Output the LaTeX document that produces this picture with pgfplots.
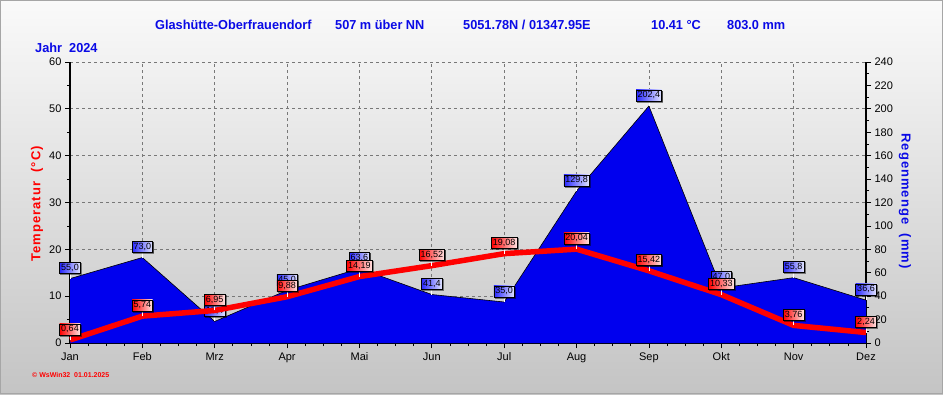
\documentclass[border=0pt]{standalone}
\usepackage{pgfplots}
\pgfplotsset{compat=1.18}
\usepackage{fontspec}
\setmainfont{Liberation Sans}
\newfontfamily\narrowfont[FakeStretch=0.98]{Liberation Sans}
\usetikzlibrary{shadows}
\definecolor{areablue}{RGB}{0,0,238}
\definecolor{txtblue}{RGB}{10,10,230}
\definecolor{gridgray}{RGB}{120,120,120}
\pgfdeclareplotmark{stick}{%
  \pgfpathmoveto{\pgfqpoint{0pt}{0pt}}%
  \pgfpathlineto{\pgfqpoint{0pt}{5pt}}%
  \pgfusepathqstroke}
\tikzset{
  labelbox/.style={draw=black, line width=0.5pt, inner xsep=1.5pt, inner ysep=1pt,
    minimum height=11pt, font=\fontsize{9}{10}\selectfont, text=black,
    anchor=south, yshift=5pt,
    drop shadow={shadow xshift=1pt, shadow yshift=-1pt, fill=black, opacity=0.45}},
}
\pgfplotsset{
  common/.style={at={(70pt,51pt)}, anchor=south west, scale only axis,
    width=796pt, height=281pt, xmin=0, xmax=11,
    /pgf/number format/assume math mode=true},
}
\begin{document}
\begin{tikzpicture}
\shade[top color={rgb,255:red,250;green,250;blue,250}, bottom color={rgb,255:red,196;green,196;blue,196}]
  (0pt,0pt) rectangle (943pt,394pt);
\draw[gray!70, line width=0.8pt] (0.4pt,0.4pt) rectangle (942.6pt,393.6pt);

% Axis 1: temperature scale, grid, left and bottom axis lines
\begin{axis}[common, ymin=0, ymax=60,
  axis x line*=bottom, axis y line*=left,
  axis line style={-, line width=2pt, black},
  xtick={0,...,11},
  xticklabels={Jan,Feb,Mrz,Apr,Mai,Jun,Jul,Aug,Sep,Okt,Nov,Dez},
  minor x tick num=3,
  ytick={0,10,...,60}, minor y tick num=1,
  grid=major, major grid style={dashed, gridgray, line width=0.7pt},
  tick align=outside, major tick length=5pt, minor tick length=3pt,
  tick style={black, line width=0.8pt},
  ticklabel style={font=\fontsize{11}{13}\selectfont},
  xticklabel style={yshift=-1pt},
]
\end{axis}

% Axis 2: rain scale, right axis, area
\begin{axis}[common, ymin=0, ymax=240, clip=false,
  axis y line*=right, axis x line=none,
  axis line style={-, line width=2pt, black},
  ytick={0,20,...,240}, minor y tick num=1,
  tick align=outside, major tick length=5pt, minor tick length=3pt,
  tick style={black, line width=0.8pt},
  ticklabel style={font=\fontsize{11}{13}\selectfont},
]
\addplot[fill=areablue, draw=none] coordinates {
 (0,55.0) (1,73.0) (2,18.4) (3,45.0) (4,63.6) (5,41.4)
 (6,35.0) (7,129.8) (8,202.4) (9,47.0) (10,55.8) (11,36.6)} \closedcycle;
\addplot[black, line width=0.6pt, mark=stick, mark options={white, line width=0.8pt},
  point meta=y,
  nodes near coords={\pgfmathprintnumber[fixed,fixed zerofill,precision=1,use comma]{\pgfplotspointmeta}},
  every node near coord/.style={labelbox, left color={rgb,255:red,40;green,40;blue,255}, right color={rgb,255:red,225;green,228;blue,255}}]
 coordinates {
 (0,55.0) (1,73.0) (2,18.4) (3,45.0) (4,63.6) (5,41.4)
 (6,35.0) (7,129.8) (8,202.4) (9,47.0) (10,55.8) (11,36.6)};
\end{axis}

% Axis 3: temperature line
\begin{axis}[common, ymin=0, ymax=60, clip=false, hide axis]
\addplot[red, line width=5.5pt, mark=stick, mark options={white, line width=0.8pt},
  point meta=y,
  nodes near coords={\pgfmathprintnumber[fixed,fixed zerofill,precision=2,use comma]{\pgfplotspointmeta}},
  every node near coord/.style={labelbox, left color=red, right color={rgb,255:red,255;green,228;blue,228}}]
 coordinates {
 (0,0.64) (1,5.74) (2,6.95) (3,9.88) (4,14.19) (5,16.52)
 (6,19.08) (7,20.04) (8,15.42) (9,10.33) (10,3.76) (11,2.24)};
\end{axis}

% Texts
\begin{scope}[every node/.style={text=txtblue, font=\narrowfont\bfseries\fontsize{13}{15}\selectfont, anchor=west, inner sep=0pt}]
\node at (155pt,369pt) {Glashütte-Oberfrauendorf};
\node at (335pt,369pt) {507 m über NN};
\node at (463pt,369pt) {5051.78N / 01347.95E};
\node at (651pt,369pt) {10.41 °C};
\node at (727pt,369pt) {803.0 mm};
\node at (35pt,346pt) {Jahr\ \ 2024};
\end{scope}
\node[rotate=90, text=red, font=\bfseries\fontsize{13}{15}\selectfont\addfontfeature{LetterSpace=8}] at (37pt,190pt) {Temperatur\ \ (°C)};
\node[rotate=-90, text=txtblue, font=\bfseries\fontsize{13}{15}\selectfont\addfontfeature{LetterSpace=8}] at (905pt,193pt) {Regenmenge\ \ (mm)};
\node[anchor=west, inner sep=0pt, text=red, font=\bfseries\fontsize{7}{8}\selectfont] at (32pt,19pt) {© WsWin32\ \ 01.01.2025};
\end{tikzpicture}
\end{document}
